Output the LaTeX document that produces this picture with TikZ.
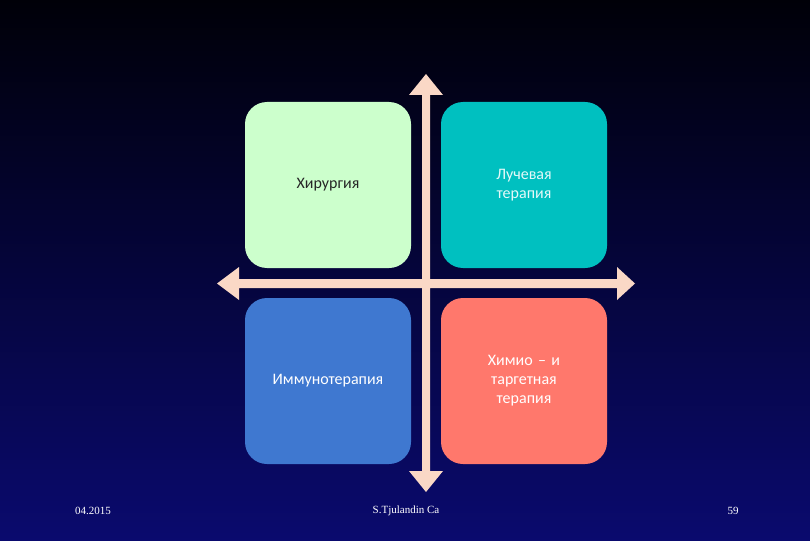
\documentclass[tikz,border=0pt]{standalone}
\usepackage{fontspec}
\setmainfont{Carlito}
\newfontfamily\timesf{Liberation Serif}
\definecolor{bgtop}{HTML}{000008}
\definecolor{bgbot}{HTML}{0A0A6E}
\definecolor{arr}{HTML}{FAD8C6}
\definecolor{cgreen}{HTML}{CCFFCC}
\definecolor{cteal}{HTML}{00C0C0}
\definecolor{cblue}{HTML}{3F78D0}
\definecolor{cred}{HTML}{FF786C}
\tikzset{
 quad/.style={rounded corners=22pt, minimum width=166pt, minimum height=166pt, inner sep=0pt, text width=150pt, align=center, font=\fontsize{16}{19}\selectfont},
 foot/.style={font=\timesf\fontsize{11}{13}\selectfont, text=white},
}
\begin{document}
\begin{tikzpicture}[x=1pt,y=-1pt]
\shade[top color=bgtop, bottom color=bgbot] (0,0) rectangle (810,540);
\useasboundingbox (0,0) rectangle (810,540);
\node[quad, fill=cgreen, text=black!85] (s) at (328,185) {Хирургия};
\node[quad, fill=cteal, text=white!90!cteal] (r) at (524,185) {Лучевая\\терапия};
\node[quad, fill=cblue, text=white] (i) at (328,381) {Иммунотерапия};
\node[quad, fill=cred, text=white] (c) at (524,381) {Химио – и\\таргетная\\терапия};
% cross arrows
\fill[arr] (426,74) -- (443,95) -- (430,95) -- (430,279) -- (617,279) -- (617,267) -- (635,283.5) -- (617,300) -- (617,288) -- (430,288) -- (430,471) -- (443,471) -- (426,492) -- (409,471) -- (422,471) -- (422,288) -- (239,288) -- (239,300) -- (217,283.5) -- (239,267) -- (239,279) -- (422,279) -- (422,95) -- (409,95) -- cycle;
\node[foot] (d) at (93,511) {04.2015};
\node[foot] (a) at (406,511) {S.Tjulandin Ca};
\node[foot] (p) at (733,511) {59};
\end{tikzpicture}
\end{document}
